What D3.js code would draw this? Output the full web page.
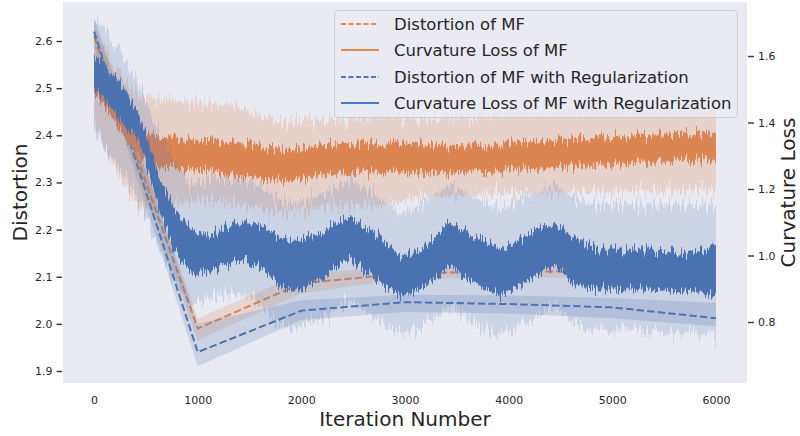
<!DOCTYPE html>
<html><head><meta charset="utf-8">
<script src="https://cdn.jsdelivr.net/npm/d3@7"></script>
<style>body{margin:0;background:#fff}svg{display:block;font-family:"DejaVu Sans",sans-serif}</style>
</head><body><svg id="c" width="800" height="436"></svg>
<script>
// ---- data ----
const distIter = [0,1000,2000,3000,4000,5000,6000];
const distMF    = [2.61,1.99,2.086,2.107,2.112,2.11,2.115];
const distMFLo  = [2.58,1.965,2.065,2.095,2.099,2.097,2.10];
const distMFHi  = [2.64,2.012,2.107,2.12,2.124,2.123,2.13];
const distReg   = [2.62,1.94,2.028,2.046,2.042,2.035,2.012];
const distRegLo = [2.59,1.91,2.008,2.025,2.022,2.012,1.995];
const distRegHi = [2.65,2.00,2.05,2.062,2.06,2.055,2.044];

const curvMFIter   = [0,250,444,637,1022,1360,1794,2276,2855,3145,3627,4302,4881,6000];
const curvMFLineHi = [1.580,1.460,1.373,1.358,1.349,1.340,1.319,1.334,1.340,1.334,1.328,1.343,1.358,1.370];
const curvMFLineLo = [1.493,1.379,1.289,1.268,1.259,1.238,1.223,1.244,1.253,1.244,1.250,1.259,1.274,1.289];
const curvMFBandHi = [1.650,1.538,1.478,1.469,1.460,1.448,1.400,1.409,1.424,1.409,1.424,1.433,1.439,1.445];
const curvMFBandLo = [1.409,1.229,1.138,1.147,1.168,1.159,1.129,1.147,1.153,1.177,1.183,1.189,1.192,1.198];

const curvRegIter   = [0,250,444,637,780,926,1119,1360,1553,1794,1939,2180,2469,2710,2952,3145,3434,3723,3916,4206,4450,4640,4881,5363,5845,6000];
const curvRegLineHi = [1.611,1.520,1.418,1.229,1.138,1.078,1.057,1.099,1.099,1.057,1.039,1.069,1.114,1.069,0.997,1.018,1.099,1.048,1.018,1.069,1.099,1.048,1.018,1.018,1.009,1.039];
const curvRegLineLo = [1.508,1.409,1.340,1.129,1.009,0.949,0.949,0.988,0.979,0.907,0.889,0.928,0.988,0.928,0.877,0.898,0.967,0.907,0.877,0.928,0.973,0.907,0.898,0.898,0.889,0.877];
const curvRegBandHi = [1.719,1.611,1.508,1.358,1.289,1.208,1.229,1.229,1.214,1.168,1.153,1.183,1.229,1.183,1.123,1.153,1.214,1.168,1.138,1.183,1.214,1.168,1.153,1.153,1.153,1.153];
const curvRegBandLo = [1.379,1.259,1.159,1.009,0.919,0.847,0.877,0.889,0.868,0.786,0.777,0.808,0.868,0.808,0.762,0.777,0.853,0.792,0.762,0.808,0.853,0.792,0.777,0.777,0.762,0.747];

const xTicks = [0,1000,2000,3000,4000,5000,6000];
const yLeftTicks = [1.9,2.0,2.1,2.2,2.3,2.4,2.5,2.6];
const yRightTicks = [0.8,1.0,1.2,1.4,1.6];
const legendLabels = ["Distortion of MF","Curvature Loss of MF","Distortion of MF with Regularization","Curvature Loss of MF with Regularization"];

// ---- layout ----
const svg = d3.select("#c");
const L = 63, R = 747, T = 2, B = 383;
const x = d3.scaleLinear().domain([-300, 6300]).range([L, R]);
const yL = d3.scaleLinear().domain([1.9, 2.6]).range([371, 41]);
const yR = d3.scaleLinear().domain([0.8, 1.6]).range([322, 56]);
const ORANGE = "#DD8452", BLUE = "#4C72B0";
const FONT = "DejaVu Sans, sans-serif";

const defs = svg.append("defs");
defs.append("clipPath").attr("id","clip").append("rect").attr("x",L).attr("y",T).attr("width",R-L).attr("height",B-T);
// vertical "jitter" texture filter for the dense per-iteration curves (style only)
function jitter(id, freq, scale, seed){
  const f = defs.append("filter").attr("id",id).attr("filterUnits","userSpaceOnUse")
    .attr("x",0).attr("y",0).attr("width",800).attr("height",436);
  f.append("feTurbulence").attr("type","fractalNoise").attr("baseFrequency",freq).attr("numOctaves",2).attr("seed",seed).attr("result","t");
  const ct = f.append("feComponentTransfer").attr("in","t").attr("result","m");
  ct.append("feFuncG").attr("type","linear").attr("slope",0).attr("intercept",0.5);
  ct.append("feFuncA").attr("type","linear").attr("slope",0).attr("intercept",1);
  f.append("feDisplacementMap").attr("in","SourceGraphic").attr("in2","m").attr("scale",scale)
    .attr("xChannelSelector","G").attr("yChannelSelector","R");
}
jitter("jLine","0.6 0.01",24,4);
jitter("jBand","0.45 0.01",36,9);

svg.append("rect").attr("x",L).attr("y",T).attr("width",R-L).attr("height",B-T).attr("fill","#EAEAF2");
const g = svg.append("g").attr("clip-path","url(#clip)");

function band(parent, iter, lo, hi, y, color, op, filt){
  const d = iter.map((t,i)=>({t, lo:lo[i], hi:hi[i]}));
  const p = parent.append("path").datum(d).attr("fill",color).attr("fill-opacity",op)
    .attr("d", d3.area().x(p=>x(p.t)).y0(p=>y(p.lo)).y1(p=>y(p.hi)));
  if (filt) p.attr("filter",`url(#${filt})`);
}
function dline(iter, v, y, color){
  const d = iter.map((t,i)=>({t, v:v[i]}));
  g.append("path").datum(d).attr("fill","none").attr("stroke",color).attr("stroke-width",2)
    .attr("stroke-dasharray","7.4,3.2").attr("d", d3.line().x(p=>x(p.t)).y(p=>y(p.v)));
}

// distortion (left axis)
band(g, distIter, distMFLo, distMFHi, yL, ORANGE, 0.2);
dline(distIter, distMF, yL, ORANGE);
band(g, distIter, distRegLo, distRegHi, yL, BLUE, 0.2);
dline(distIter, distReg, yL, BLUE);

// curvature (right axis)
band(g, curvMFIter, curvMFBandLo, curvMFBandHi, yR, ORANGE, 0.25, "jBand");
band(g, curvMFIter, curvMFLineLo, curvMFLineHi, yR, ORANGE, 1, "jLine");
band(g, curvRegIter, curvRegBandLo, curvRegBandHi, yR, BLUE, 0.2, "jBand");
band(g, curvRegIter, curvRegLineLo, curvRegLineHi, yR, BLUE, 1, "jLine");

// axes
const txt = "#262626";
const axL = svg.append("g").attr("transform",`translate(${L-1},0)`)
  .call(d3.axisLeft(yL).tickValues(yLeftTicks).tickFormat(d3.format(".1f")).tickSize(5.5).tickPadding(4));
const axR = svg.append("g").attr("transform",`translate(${R+1},0)`)
  .call(d3.axisRight(yR).tickValues(yRightTicks).tickFormat(d3.format(".1f")).tickSize(6).tickPadding(4));
const axB = svg.append("g").attr("transform",`translate(0,${B})`)
  .call(d3.axisBottom(x).tickValues(xTicks).tickFormat(d3.format("d")).tickSize(0).tickPadding(13));
[axL,axR,axB].forEach(a=>{
  a.select(".domain").remove();
  a.attr("font-family",null).attr("font-size",null);
  a.selectAll(".tick line").attr("stroke","#333").attr("stroke-width",1.4);
  a.selectAll(".tick text").attr("fill",txt).style("font-size","11px").style("font-family",FONT);
});

svg.append("text").attr("x",(L+R)/2).attr("y",426).attr("text-anchor","middle")
  .attr("fill",txt).style("font-size","20px").text("Iteration Number");
svg.append("text").attr("transform",`translate(27,${(T+B)/2}) rotate(-90)`).attr("text-anchor","middle")
  .attr("fill",txt).style("font-size","20px").text("Distortion");
svg.append("text").attr("transform",`translate(795,${(T+B)/2}) rotate(-90)`).attr("text-anchor","middle")
  .attr("fill",txt).style("font-size","20px").text("Curvature Loss");

// legend
const lg = svg.append("g");
lg.append("rect").attr("x",334.5).attr("y",10.5).attr("width",403).attr("height",107).attr("rx",4)
  .attr("fill","#EAEAF2").attr("fill-opacity",0.8).attr("stroke","#CCCCCC").attr("stroke-width",1);
const legColors = ["#EE854A","#EE854A","#4878D0","#4878D0"];
const legDash = [true,false,true,false];
const legY = [24,50,77,103];
legendLabels.forEach((lab,i)=>{
  lg.append("line").attr("x1",341).attr("x2",379).attr("y1",legY[i]).attr("y2",legY[i])
    .attr("stroke",legColors[i]).attr("stroke-width",2).attr("stroke-dasharray",legDash[i]?"5,2.5":null);
  lg.append("text").attr("x",394).attr("y",legY[i]).attr("dy","0.35em").attr("fill",txt)
    .style("font-size","16.5px").text(lab);
});
</script></body></html>
